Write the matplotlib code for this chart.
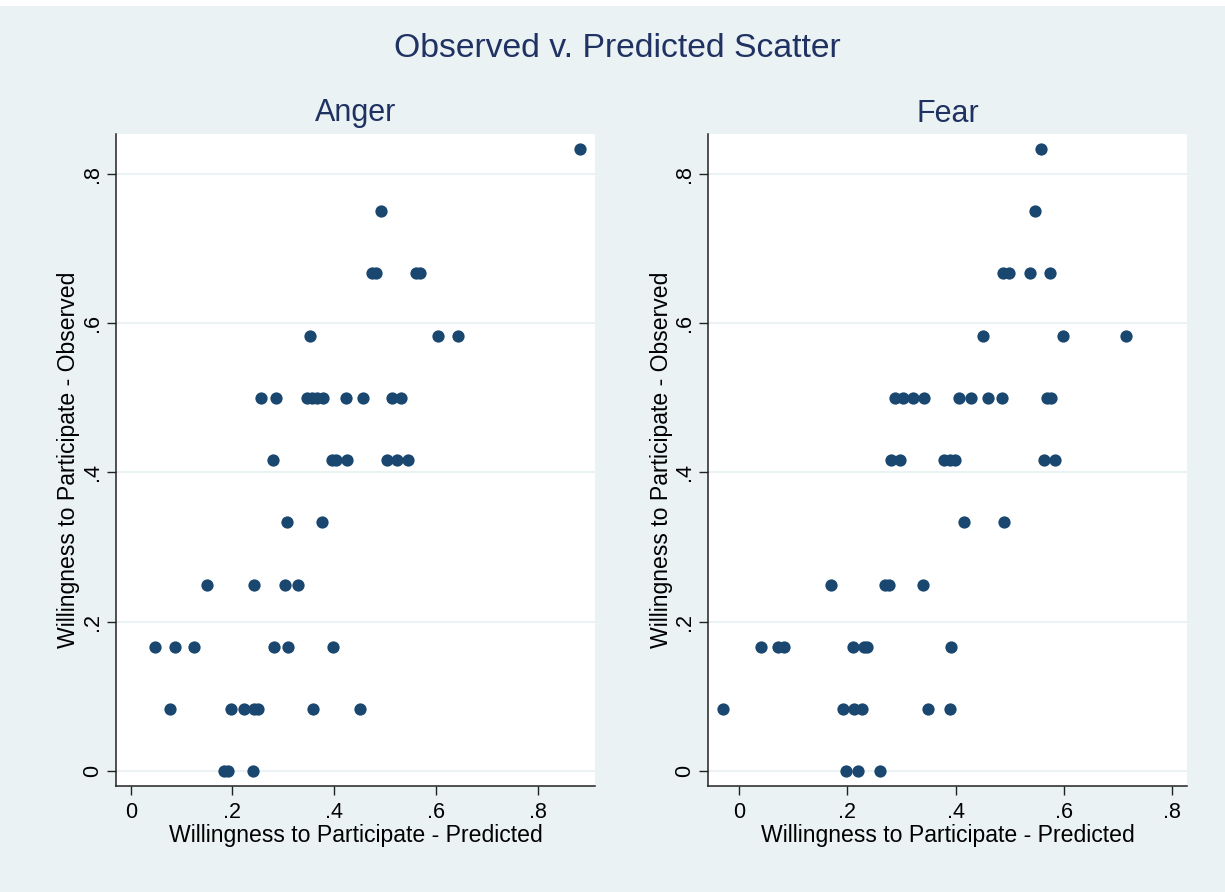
import numpy as np
import matplotlib
matplotlib.use("Agg")
from matplotlib import pyplot as plt
from matplotlib.patches import Rectangle

plt.rcParams['font.family'] = ['Liberation Sans', 'DejaVu Sans']

# Anger panel: predicted (x) vs observed (y)
anger_pred = [0.883, 0.492, 0.474, 0.482, 0.561, 0.569,
              0.353, 0.604, 0.644,
              0.256, 0.286, 0.347, 0.356, 0.366, 0.378, 0.423, 0.456, 0.513, 0.532,
              0.279, 0.395, 0.403, 0.425, 0.503, 0.523, 0.546,
              0.307, 0.376,
              0.149, 0.243, 0.303, 0.328,
              0.048, 0.087, 0.124, 0.282, 0.309, 0.397,
              0.077, 0.197, 0.222, 0.242, 0.250, 0.358, 0.450,
              0.183, 0.192, 0.241]
anger_obs = [0.833, 0.75, 0.667, 0.667, 0.667, 0.667,
             0.583, 0.583, 0.583,
             0.5, 0.5, 0.5, 0.5, 0.5, 0.5, 0.5, 0.5, 0.5, 0.5,
             0.417, 0.417, 0.417, 0.417, 0.417, 0.417, 0.417,
             0.333, 0.333,
             0.25, 0.25, 0.25, 0.25,
             0.167, 0.167, 0.167, 0.167, 0.167, 0.167,
             0.083, 0.083, 0.083, 0.083, 0.083, 0.083, 0.083,
             0.0, 0.0, 0.0]

# Fear panel
fear_pred = [0.557, 0.546, 0.487, 0.498, 0.537, 0.575,
             0.450, 0.599, 0.715,
             0.289, 0.302, 0.322, 0.341, 0.406, 0.428, 0.460, 0.485, 0.568, 0.576,
             0.281, 0.297, 0.379, 0.390, 0.399, 0.564, 0.584,
             0.416, 0.490,
             0.170, 0.270, 0.277, 0.340,
             0.041, 0.072, 0.083, 0.211, 0.230, 0.236, 0.391,
             -0.030, 0.193, 0.213, 0.228, 0.350, 0.390,
             0.198, 0.219, 0.261]
fear_obs = [0.833, 0.75, 0.667, 0.667, 0.667, 0.667,
            0.583, 0.583, 0.583,
            0.5, 0.5, 0.5, 0.5, 0.5, 0.5, 0.5, 0.5, 0.5, 0.5,
            0.417, 0.417, 0.417, 0.417, 0.417, 0.417, 0.417,
            0.333, 0.333,
            0.25, 0.25, 0.25, 0.25,
            0.167, 0.167, 0.167, 0.167, 0.167, 0.167, 0.167,
            0.083, 0.083, 0.083, 0.083, 0.083, 0.083,
            0.0, 0.0, 0.0]

ticks = [0, 0.2, 0.4, 0.6, 0.8]
tick_labels = ['0', '.2', '.4', '.6', '.8']

bg = '#EAF2F3'
navy = '#1A476F'
title_col = '#1F3262'

fig = plt.figure(figsize=(12.25, 8.92), dpi=100, facecolor=bg)
fig.patches.append(Rectangle((0, 1 - 6 / 892), 1, 6 / 892, transform=fig.transFigure,
                             facecolor='white', edgecolor='none', zorder=0))

W, H = 1225, 892
panels = [
    ('Anger', anger_pred, anger_obs, 116, 595, (-0.029, 0.913)),
    ('Fear', fear_pred, fear_obs, 708.3, 1187.3, (-0.0567, 0.828)),
]
for name, xs, ys, x0, x1, xlim in panels:
    ax = fig.add_axes([x0 / W, 1 - 786 / H, (x1 - x0) / W, (786 - 134) / H])
    ax.set_facecolor('white')
    ax.scatter(xs, ys, s=78, color=navy, edgecolors=navy, linewidths=0, zorder=3)
    ax.set_xlim(*xlim)
    ax.set_ylim(-0.0197, 0.853)
    ax.set_xticks(ticks)
    ax.set_xticklabels(tick_labels)
    ax.set_yticks(ticks)
    ax.set_yticklabels(tick_labels)
    plt.setp(ax.get_yticklabels(), rotation=90, va='center')
    ax.grid(axis='y', color=bg, linewidth=1.5, zorder=1)
    ax.set_axisbelow(True)
    for side in ['top', 'right']:
        ax.spines[side].set_visible(False)
    for side in ['left', 'bottom']:
        ax.spines[side].set_color('#222222')
        ax.spines[side].set_linewidth(1.1)
    ax.tick_params(direction='out', length=6.5, width=1.0, color='#222222',
                   labelsize=15.5, pad=5)
    ax.tick_params(axis='y', pad=3)
    ax.set_xlabel('Willingness to Participate - Predicted', fontsize=16.6, labelpad=1)
    ax.set_ylabel('Willingness to Participate - Observed', fontsize=16.6, labelpad=1)
    ax.set_title(name, fontsize=22, color=title_col, pad=9)

fig.text(617 / W, 1 - 57 / H, 'Observed v. Predicted Scatter', fontsize=24.3,
         color=title_col, ha='center', va='baseline')

fig.savefig('out.png', dpi=100, facecolor=bg)
